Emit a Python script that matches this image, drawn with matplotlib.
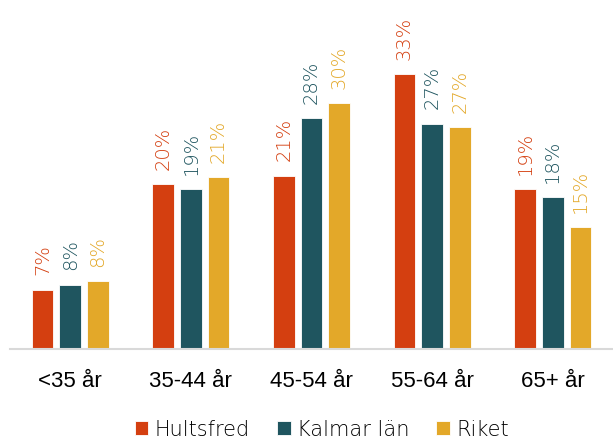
import numpy as np
import matplotlib
matplotlib.use("Agg")
import matplotlib.pyplot as plt

# data (bar heights in %)
categories = ["<35 år", "35-44 år", "45-54 år", "55-64 år", "65+ år"]
series_names = ["Hultsfred", "Kalmar län", "Riket"]
hultsfred = [7.2, 20.0, 21.0, 33.3, 19.4]
kalmar_lan = [7.8, 19.4, 28.0, 27.3, 18.4]
riket = [8.2, 20.8, 29.8, 26.9, 14.8]
colors = ["#D43F10", "#1F555F", "#E3A829"]

fig = plt.figure(figsize=(6.13, 4.39), dpi=100)
ax = fig.add_axes([10 / 613, 89 / 439, 603 / 613, 350 / 439])

x = np.arange(len(categories))
width = 0.18
step = 0.23

for i, (name, vals, col) in enumerate(zip(series_names, [hultsfred, kalmar_lan, riket], colors)):
    pos = x + (i - 1) * step
    bars = ax.bar(pos, vals, width, color=col, label=name,
                  edgecolor="white", linewidth=0.6)
    for b, v in zip(bars, vals):
        ax.annotate(f"{round(v)}%", (b.get_x() + b.get_width() / 2, v),
                    xytext=(0, 11), textcoords="offset points",
                    rotation=90, ha="center", va="bottom",
                    fontsize=14, color=col, family="DejaVu Sans",
                    weight="light")

ax.set_xlim(-0.5, len(categories) - 0.5)
ax.set_ylim(0, 42.4)
ax.set_yticks([])
ax.set_xticks(x)
ax.set_xticklabels(categories, fontsize=16, family="Liberation Sans")
ax.tick_params(axis="x", length=0, pad=15)
for s in ["top", "right", "left"]:
    ax.spines[s].set_visible(False)
ax.spines["bottom"].set_color("#D9D9D9")
ax.spines["bottom"].set_linewidth(1.5)

fig.legend(loc="center", bbox_to_anchor=(0.525, 9 / 439), ncol=3,
           frameon=False, handlelength=0.65, handleheight=0.65,
           handletextpad=0.3, columnspacing=1.3,
           prop={"family": "DejaVu Sans", "size": 15, "weight": "light"})

fig.savefig("out.png", dpi=100)
